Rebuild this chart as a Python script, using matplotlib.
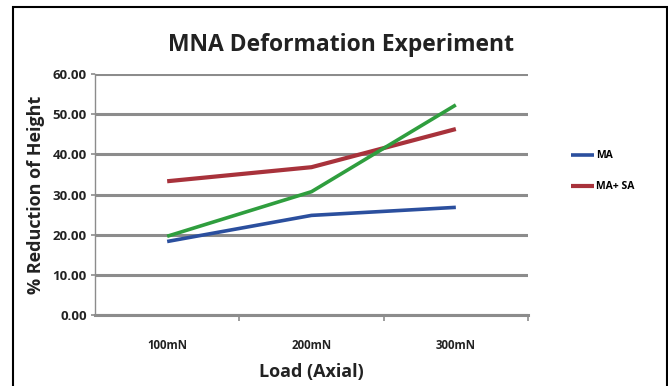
import matplotlib
matplotlib.use("Agg")
import matplotlib.pyplot as plt
from matplotlib.patches import Rectangle
import numpy as np

categories = ["100mN", "200mN", "300mN"]
ma = [18.3, 24.8, 26.8]
ma_sa = [33.3, 36.8, 46.3]
third = [19.6, 30.7, 52.3]
yticks = [0, 10, 20, 30, 40, 50, 60]

plt.rcParams['font.family'] = ['Open Sans', 'DejaVu Sans']

fig = plt.figure(figsize=(6.68, 3.86), dpi=100)
fig.patches.append(Rectangle((13/668, -0.01), (667-13)/668, 1 - 6.5/386 + 0.01,
                             transform=fig.transFigure, fill=False,
                             edgecolor='black', linewidth=1.5))

ax = fig.add_axes([95/668, 1 - 315/386, (528-95)/668, (315-74)/386])
x = np.arange(len(categories)) + 0.5

ax.set_xlim(0, 3)
ax.set_ylim(0, 60)
ax.set_yticks(yticks)
ax.set_yticklabels([f"{v:.2f}" for v in yticks])
ax.yaxis.grid(True, color='#8c8c8c', linewidth=2.2)
ax.set_axisbelow(True)

l1, = ax.plot(x, ma, color='#2b4f9e', linewidth=2.6, label='MA', solid_capstyle='butt')
l2, = ax.plot(x, ma_sa, color='#a8323b', linewidth=3.0, label='MA+ SA', solid_capstyle='butt')
ax.plot(x, third, color='#2f9e3e', linewidth=2.6, solid_capstyle='butt')

ax.set_xticks(x)
ax.set_xticklabels(categories)
ax.set_xticks([1, 2, 3], minor=True)
ax.tick_params(axis='x', which='major', length=0, pad=17, labelsize=8.3)
ax.tick_params(axis='x', which='minor', length=4, width=1.2, color='#8c8c8c', direction='out')
ax.tick_params(axis='y', length=3, width=1.2, color='#8c8c8c', labelsize=9.5, pad=3)
for lab in ax.get_xticklabels() + ax.get_yticklabels():
    lab.set_fontweight('bold')
    lab.set_color('#222222')

for s in ['top', 'right']:
    ax.spines[s].set_visible(False)
ax.spines['left'].set_color('#8c8c8c')
ax.spines['left'].set_linewidth(1.0)
ax.spines['bottom'].set_color('#8c8c8c')
ax.spines['bottom'].set_linewidth(2.2)

ax.set_xlabel("Load (Axial)", fontsize=13, fontweight='bold', labelpad=8, color='#222222')
ax.set_ylabel("% Reduction of Height", fontsize=13, fontweight='bold', labelpad=5, color='#222222')
fig.text(341/668, 1 - 45/386, "MNA Deformation Experiment", fontsize=16.5,
         fontweight='bold', ha='center', va='center', color='#222222')

fig.legend(handles=[l1, l2], loc='upper left', bbox_to_anchor=(562/668, 1 - 141/386),
           frameon=False, handlelength=2.2, handletextpad=0.2, labelspacing=1.9,
           prop={'weight': 'bold', 'size': 7.5})

fig.savefig("out.png", dpi=100)
